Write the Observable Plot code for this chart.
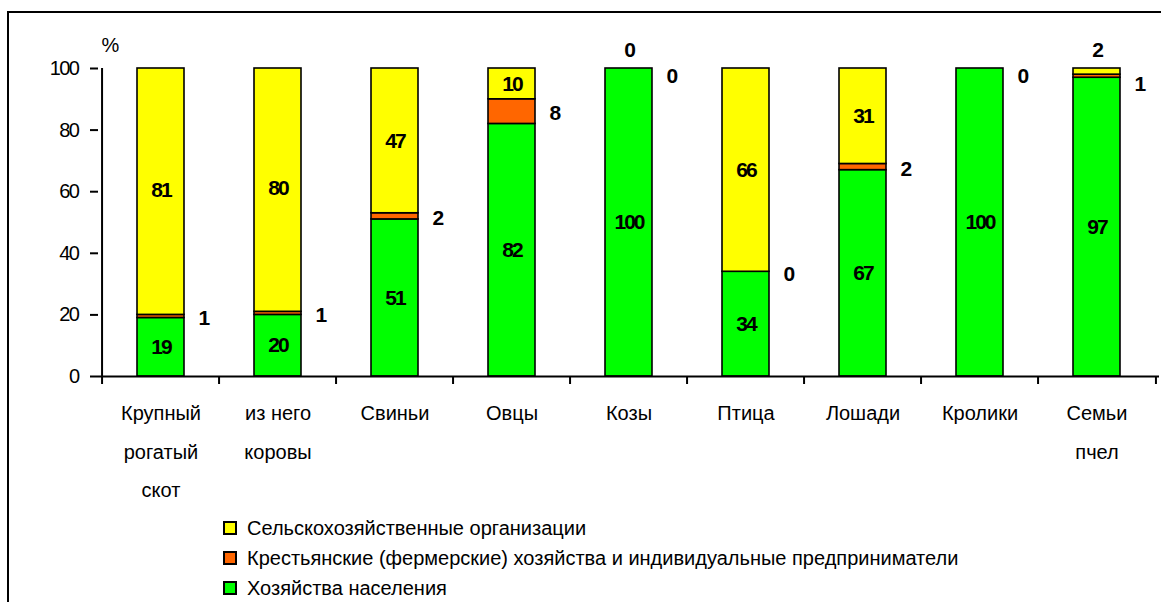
<!DOCTYPE html>
<html><head><meta charset="utf-8">
<script src="https://cdn.jsdelivr.net/npm/d3@7"></script>
<script src="https://cdn.jsdelivr.net/npm/@observablehq/plot@0.6"></script>
<style>
body{margin:0;background:#fff;}
#wrap{position:relative;width:1161px;height:602px;overflow:hidden;font-family:"Liberation Sans",Arial,sans-serif;color:#000;}
#frame{position:absolute;left:7px;top:11px;width:1300px;height:700px;border-left:2px solid #000;border-top:2px solid #000;box-sizing:border-box;}
#chart{position:absolute;left:0;top:0;}
#legend{position:absolute;left:223px;top:513px;}
.item{display:flex;align-items:center;height:30px;font-size:20px;line-height:22px;white-space:nowrap;}
.sw{width:10px;height:10px;border:2px solid #000;margin-right:10px;flex:none;}
</style></head>
<body><div id="wrap"><div id="frame"></div><div id="chart"></div><div id="legend"></div></div>
<script>
const categories = ["Крупный\nрогатый\nскот","из него\nкоровы","Свиньи","Овцы","Козы","Птица","Лошади","Кролики","Семьи\nпчел"];
const seriesNames = ["Хозяйства населения","Крестьянские (фермерские) хозяйства и индивидуальные предприниматели","Сельскохозяйственные организации"];
const seriesColors = ["#00FF00","#FF6600","#FFFF00"];
const households = [19,20,51,82,100,34,67,100,97];
const farms = [1,1,2,8,0,0,2,0,1];
const agriOrgs = [81,80,47,10,0,66,31,null,2];
const yTicks = [0,20,40,60,80,100];
const legendOrder = [2,1,0];

const [GREEN, ORANGE, YELLOW] = seriesNames;
const rows = [];
categories.forEach((c,i)=>{
  const topSmall = agriOrgs[i] == null || agriOrgs[i] < 5;
  rows.push({cat:c, series:GREEN, value:households[i], topSmall});
  rows.push({cat:c, series:ORANGE, value:farms[i], topSmall});
  rows.push({cat:c, series:YELLOW, value:agriOrgs[i], topSmall});
});

const W=1161, H=510, mL=98, mR=2, mT=68, mB=134;
const step = (W-mL-mR)/categories.length;
const bw = step*0.4;
const st = {x:"cat", y:"value", z:"series", order:seriesNames};

const chart = Plot.plot({
  width:W, height:H, marginLeft:mL, marginRight:mR, marginTop:mT, marginBottom:mB,
  style:{fontFamily:'"Liberation Sans", Arial, sans-serif', fontSize:"20px", color:"#000", background:"transparent", overflow:"visible"},
  x:{domain:categories, paddingInner:0.6, paddingOuter:0.3},
  y:{domain:[0,100], clamp:true},
  color:{domain:seriesNames, range:seriesColors},
  marks:[
    Plot.barY(rows, Plot.stackY({...st, fill:"series", stroke:"#000", strokeWidth:1.6})),
    Plot.ruleY([0], {stroke:"#000", strokeWidth:2}),
    Plot.ruleX([categories[0]], {x:d=>d, y1:0, y2:100, dx:-step/2, stroke:"#000", strokeWidth:2}),
    Plot.axisY({ticks:yTicks, tickSize:8, tickPadding:12, label:null, fontSize:20, strokeWidth:2}),
    Plot.axisX({tickSize:8, tickFormat:()=>"", dx:-step/2, label:null, strokeWidth:2}),
    Plot.axisX({ticks:[categories[categories.length-1]], tickSize:8, tickFormat:()=>"", dx:step/2, label:null, strokeWidth:2}),
    Plot.text(categories, {x:d=>d, frameAnchor:"bottom", lineAnchor:"top", dy:16, lineHeight:1.93, fontSize:20}),
    Plot.text(["%"], {frameAnchor:"top-left", dx:12, dy:-23, textAnchor:"middle", lineAnchor:"middle", fontSize:20}),
    // green labels
    Plot.text(rows, Plot.stackY({...st, text:d=>d.series===GREEN ? String(d.value) : null, fontWeight:"bold", fontSize:21})),
    // yellow labels inside
    Plot.text(rows, Plot.stackY({...st, text:d=>d.series===YELLOW && d.value!=null && d.value>=5 ? String(d.value) : null, fontWeight:"bold", fontSize:21})),
    // yellow labels above bar
    Plot.text(rows, Plot.stackY2({...st, text:d=>d.series===YELLOW && d.value!=null && d.value<5 ? String(d.value) : null, fontWeight:"bold", fontSize:21, dy:-18})),
    // orange labels to the right
    Plot.text(rows, Plot.stackY({...st, text:d=>d.series===ORANGE && !d.topSmall ? String(d.value) : null, fontWeight:"bold", fontSize:21, textAnchor:"start", dx:bw/2+14, dy:2})),
    Plot.text(rows, Plot.stackY({...st, text:d=>d.series===ORANGE && d.topSmall ? String(d.value) : null, fontWeight:"bold", fontSize:21, textAnchor:"start", dx:bw/2+14, dy:8}))
  ]
});
chart.querySelectorAll('g[font-weight="bold"] text').forEach(t=>t.style.letterSpacing="-2px");
chart.querySelectorAll('g[aria-label="y-axis tick label"] text').forEach(t=>t.style.letterSpacing="-1.5px");
document.getElementById("chart").appendChild(chart);

const legend = document.getElementById("legend");
legendOrder.forEach(k=>{
  const it = document.createElement("div"); it.className="item";
  const sw = document.createElement("div"); sw.className="sw"; sw.style.background=seriesColors[k];
  const tx = document.createElement("span"); tx.textContent=seriesNames[k];
  it.appendChild(sw); it.appendChild(tx); legend.appendChild(it);
});
</script>
</body></html>
